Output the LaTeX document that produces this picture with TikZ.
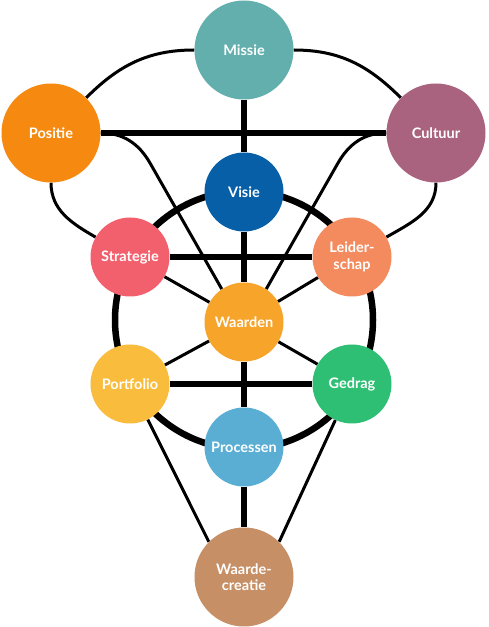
\documentclass[tikz,border=0pt]{standalone}
\usepackage{fontspec}
\setmainfont{Lato}
\usetikzlibrary{backgrounds}
\definecolor{cMissie}{HTML}{62AFAE}
\definecolor{cPositie}{HTML}{F68A10}
\definecolor{cCultuur}{HTML}{A9637F}
\definecolor{cVisie}{HTML}{075FA8}
\definecolor{cStrategie}{HTML}{F2606E}
\definecolor{cLeider}{HTML}{F48B5E}
\definecolor{cWaarden}{HTML}{F6A42A}
\definecolor{cPortfolio}{HTML}{F9BC3C}
\definecolor{cGedrag}{HTML}{2EBF74}
\definecolor{cProcessen}{HTML}{5AAED3}
\definecolor{cCreatie}{HTML}{C68F65}
\begin{document}
\begin{tikzpicture}[x=1pt,y=1pt,
  bub/.style={circle,inner sep=0pt,text=white,align=center,
    font=\fontsize{14.5}{16.5}\selectfont\bfseries},
  bigbub/.style={bub,minimum size=99pt},
  midbub/.style={bub,minimum size=79pt},
  thickline/.style={line width=6.5pt},
  thinline/.style={line width=3pt}]
\useasboundingbox (0,0) rectangle (488,627);
\node[bigbub,fill=cMissie] (missie) at (244,577) {Missie};
\node[bigbub,fill=cPositie] (positie) at (51,494) {Positie};
\node[bigbub,fill=cCultuur] (cultuur) at (436,494) {Cultuur};
\node[midbub,fill=cVisie] (visie) at (244,435) {Visie};
\node[midbub,fill=cStrategie] (strategie) at (130,370) {Strategie};
\node[midbub,fill=cLeider] (leider) at (352,370) {Leider-\\schap};
\node[midbub,fill=cWaarden] (waarden) at (244,305) {Waarden};
\node[midbub,fill=cPortfolio] (portfolio) at (130,243) {Portfolio};
\node[midbub,fill=cGedrag] (gedrag) at (352,243) {Gedrag};
\node[midbub,fill=cProcessen] (processen) at (244,180) {Processen};
\node[bigbub,fill=cCreatie] (creatie) at (244,50) {Waarde-\\creatie};
\coordinate (pb) at (150,464);
\coordinate (cb) at (338,464);
\begin{scope}[on background layer]
\node[circle,draw,line width=6.5pt,minimum size=258pt,inner sep=0pt] (ring) at (244,307) {};
\draw[thickline] (missie) -- (visie);
\draw[thickline] (visie) -- (waarden);
\draw[thickline] (waarden) -- (processen);
\draw[thickline] (processen) -- (creatie);
\draw[thickline] (positie) -- (cultuur);
\draw[thickline] (strategie) -- (leider);
\draw[thickline] (portfolio) -- (gedrag);
\draw[thinline] (missie.west) to[out=180,in=45] (positie.45);
\draw[thinline] (missie.east) to[out=0,in=135] (cultuur.135);
\draw[thinline] (positie.south) to[out=-90,in=150] (strategie.150);
\draw[thinline] (cultuur.south) to[out=-90,in=30] (leider.30);
\draw[thinline] (positie.east) to[out=0,in=120] (pb) -- (waarden.124);
\draw[thinline] (cultuur.west) to[out=180,in=60] (cb) -- (waarden.56);
\draw[thinline] (strategie) -- (waarden);
\draw[thinline] (leider) -- (waarden);
\draw[thinline] (waarden) -- (portfolio);
\draw[thinline] (waarden) -- (gedrag);
\draw[thinline] (portfolio) -- (creatie.135);
\draw[thinline] (gedrag) -- (creatie.45);
\end{scope}
\end{tikzpicture}
\end{document}
